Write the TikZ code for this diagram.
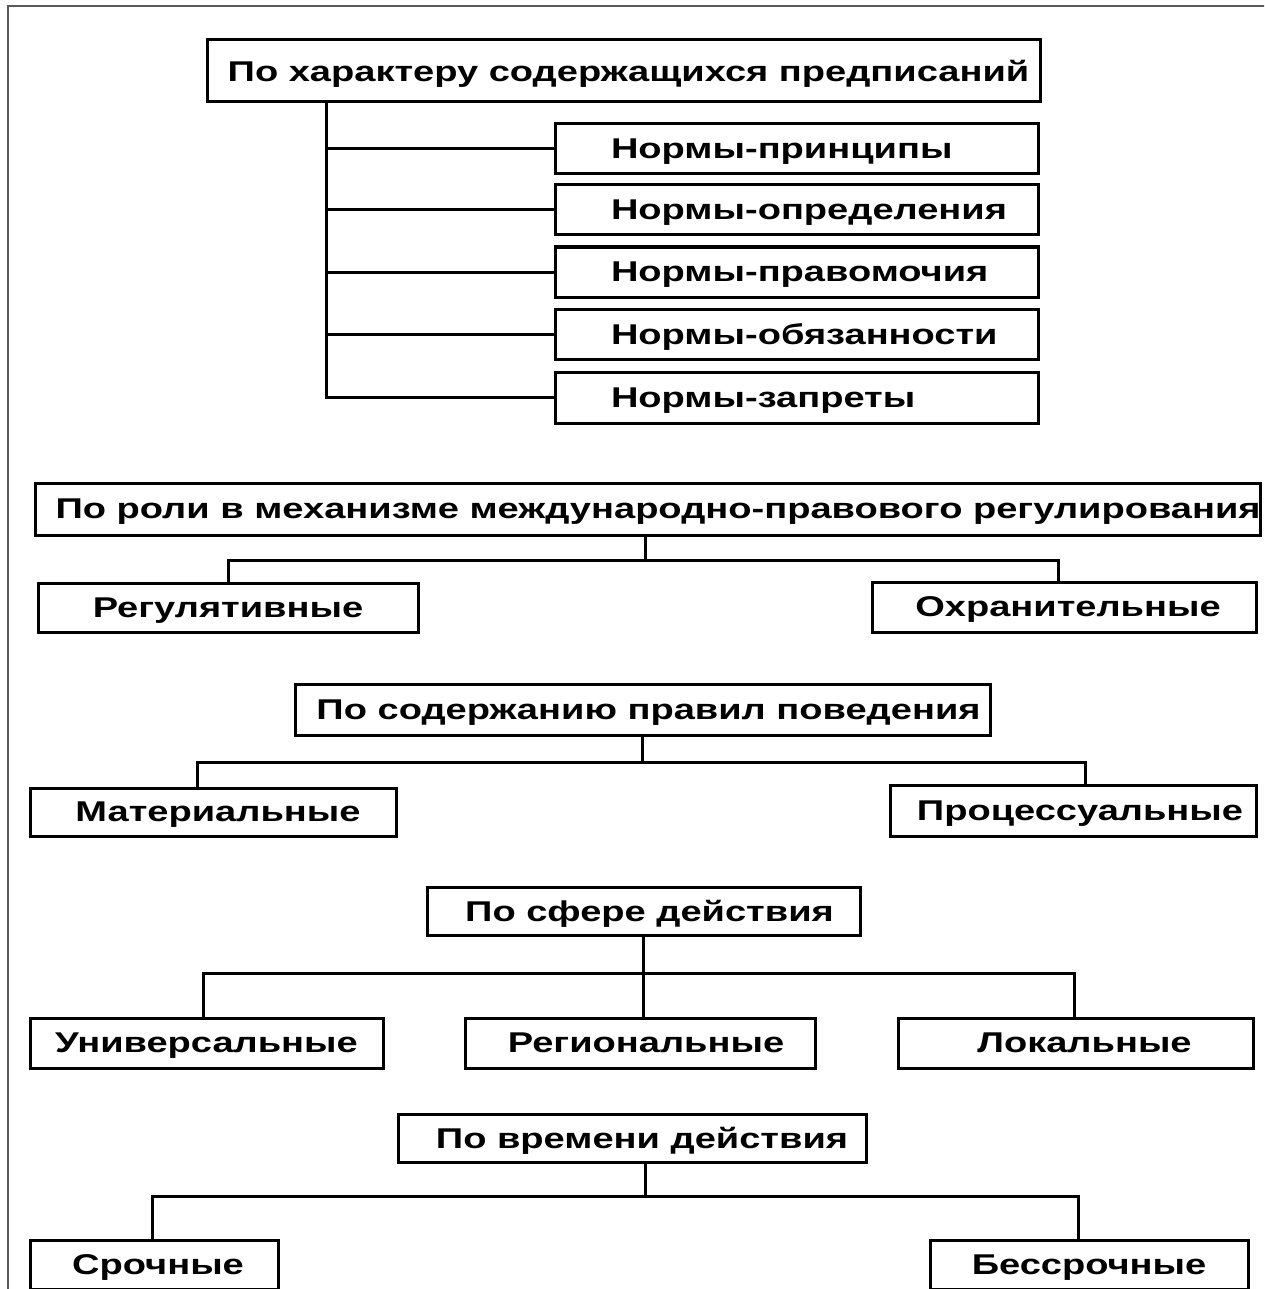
\documentclass[tikz,border=0pt]{standalone}
\usepackage{fontspec}
\newfontfamily\lblfont{Liberation Sans}[FakeStretch=1.33]
\begin{document}
\begin{tikzpicture}[x=1pt,y=-1pt,
  box/.style={draw, line width=3pt, inner sep=0pt, fill=white, text depth=0pt,
    font=\lblfont\bfseries\fontsize{28.6}{32}\selectfont},
  conn/.style={line width=3pt, line join=miter},
  frame/.style={line width=2pt, draw=black!65}]
\clip (0,0) rectangle (1264,1289);
\fill[white] (0,0) rectangle (1264,1289);
\draw[frame] (8,1300) -- (8,6) -- (1270,6);

% group 1
\node[box, minimum width=833pt, minimum height=62pt] (b1) at (623.5,71) {\hspace*{10pt}По характеру содержащихся предписаний};
\node[box, minimum width=483pt, minimum height=50pt] (n1) at (796.5,149) {\makebox[371pt][l]{Нормы-принципы}};
\node[box, minimum width=483pt, minimum height=50pt] (n2) at (796.5,210) {\makebox[371pt][l]{Нормы-определения}};
\node[box, minimum width=483pt, minimum height=50pt] (n3) at (796.5,272) {\makebox[371pt][l]{Нормы-правомочия}};
\node[box, minimum width=483pt, minimum height=50pt] (n4) at (796.5,334) {\makebox[371pt][l]{Нормы-обязанности}};
\node[box, minimum width=483pt, minimum height=51pt] (n5) at (796.5,397.5) {\makebox[371pt][l]{Нормы-запреты}};
\coordinate (t1) at (326,102);
\draw[conn] (t1) |- (n5.west);
\foreach \i in {1,2,3,4} \draw[conn] (n\i.west -| t1) -- (n\i.west);

% group 2
\node[box, minimum width=1220pt, minimum height=52pt] (b2) at (648,509) {\hspace*{20pt}По роли в механизме международно-правового регулирования};
\node[box, minimum width=380pt, minimum height=49pt] (r1) at (228,607.5) {Регулятивные};
\node[box, minimum width=384pt, minimum height=50pt] (r2) at (1064,607) {\hspace*{8pt}Охранительные};
\coordinate (j2) at (645,560);
\coordinate (l2) at (228,560);
\coordinate (e2) at (1058,560);
\draw[conn] (b2.south -| j2) -- (j2);
\draw[conn] (r1.north -| l2) -- (l2) -- (e2) -- (r2.north -| e2);

% group 3
\node[box, minimum width=695pt, minimum height=51pt] (b3) at (642.5,709.5) {\hspace*{12pt}По содержанию правил поведения};
\node[box, minimum width=366pt, minimum height=48pt] (m) at (213,812) {\hspace*{10pt}Материальные};
\node[box, minimum width=366pt, minimum height=51pt] (p) at (1073,810.5) {\hspace*{14pt}Процессуальные};
\coordinate (j3) at (642,762);
\coordinate (l3) at (197,762);
\coordinate (e3) at (1085,762);
\draw[conn] (b3.south -| j3) -- (j3);
\draw[conn] (m.north -| l3) -- (l3) -- (e3) -- (p.north -| e3);

% group 4
\node[box, minimum width=433pt, minimum height=48pt] (b4) at (643.5,911) {\hspace*{12pt}По сфере действия};
\node[box, minimum width=353pt, minimum height=50pt] (u) at (206.5,1043) {Универсальные};
\node[box, minimum width=350pt, minimum height=50pt] (rg) at (640,1043) {\hspace*{12pt}Региональные};
\node[box, minimum width=355pt, minimum height=50pt] (lc) at (1075.5,1043) {\hspace*{18pt}Локальные};
\coordinate (j4) at (643,973);
\coordinate (l4) at (203,973);
\coordinate (e4) at (1074,973);
\draw[conn] (b4.south -| j4) -- (rg.north -| j4);
\draw[conn] (u.north -| l4) -- (l4) -- (e4) -- (lc.north -| e4);

% group 5
\node[box, minimum width=468pt, minimum height=48pt] (b5) at (632,1138) {\hspace*{20pt}По времени действия};
\node[box, minimum width=248pt, minimum height=49pt] (s) at (154,1264.5) {\hspace*{8pt}Срочные};
\node[box, minimum width=318pt, minimum height=49pt] (bs) at (1089,1264.5) {Бессрочные};
\coordinate (j5) at (645,1196);
\coordinate (l5) at (152,1196);
\coordinate (e5) at (1078,1196);
\draw[conn] (b5.south -| j5) -- (j5);
\draw[conn] (s.north -| l5) -- (l5) -- (e5) -- (bs.north -| e5);
\end{tikzpicture}
\end{document}
